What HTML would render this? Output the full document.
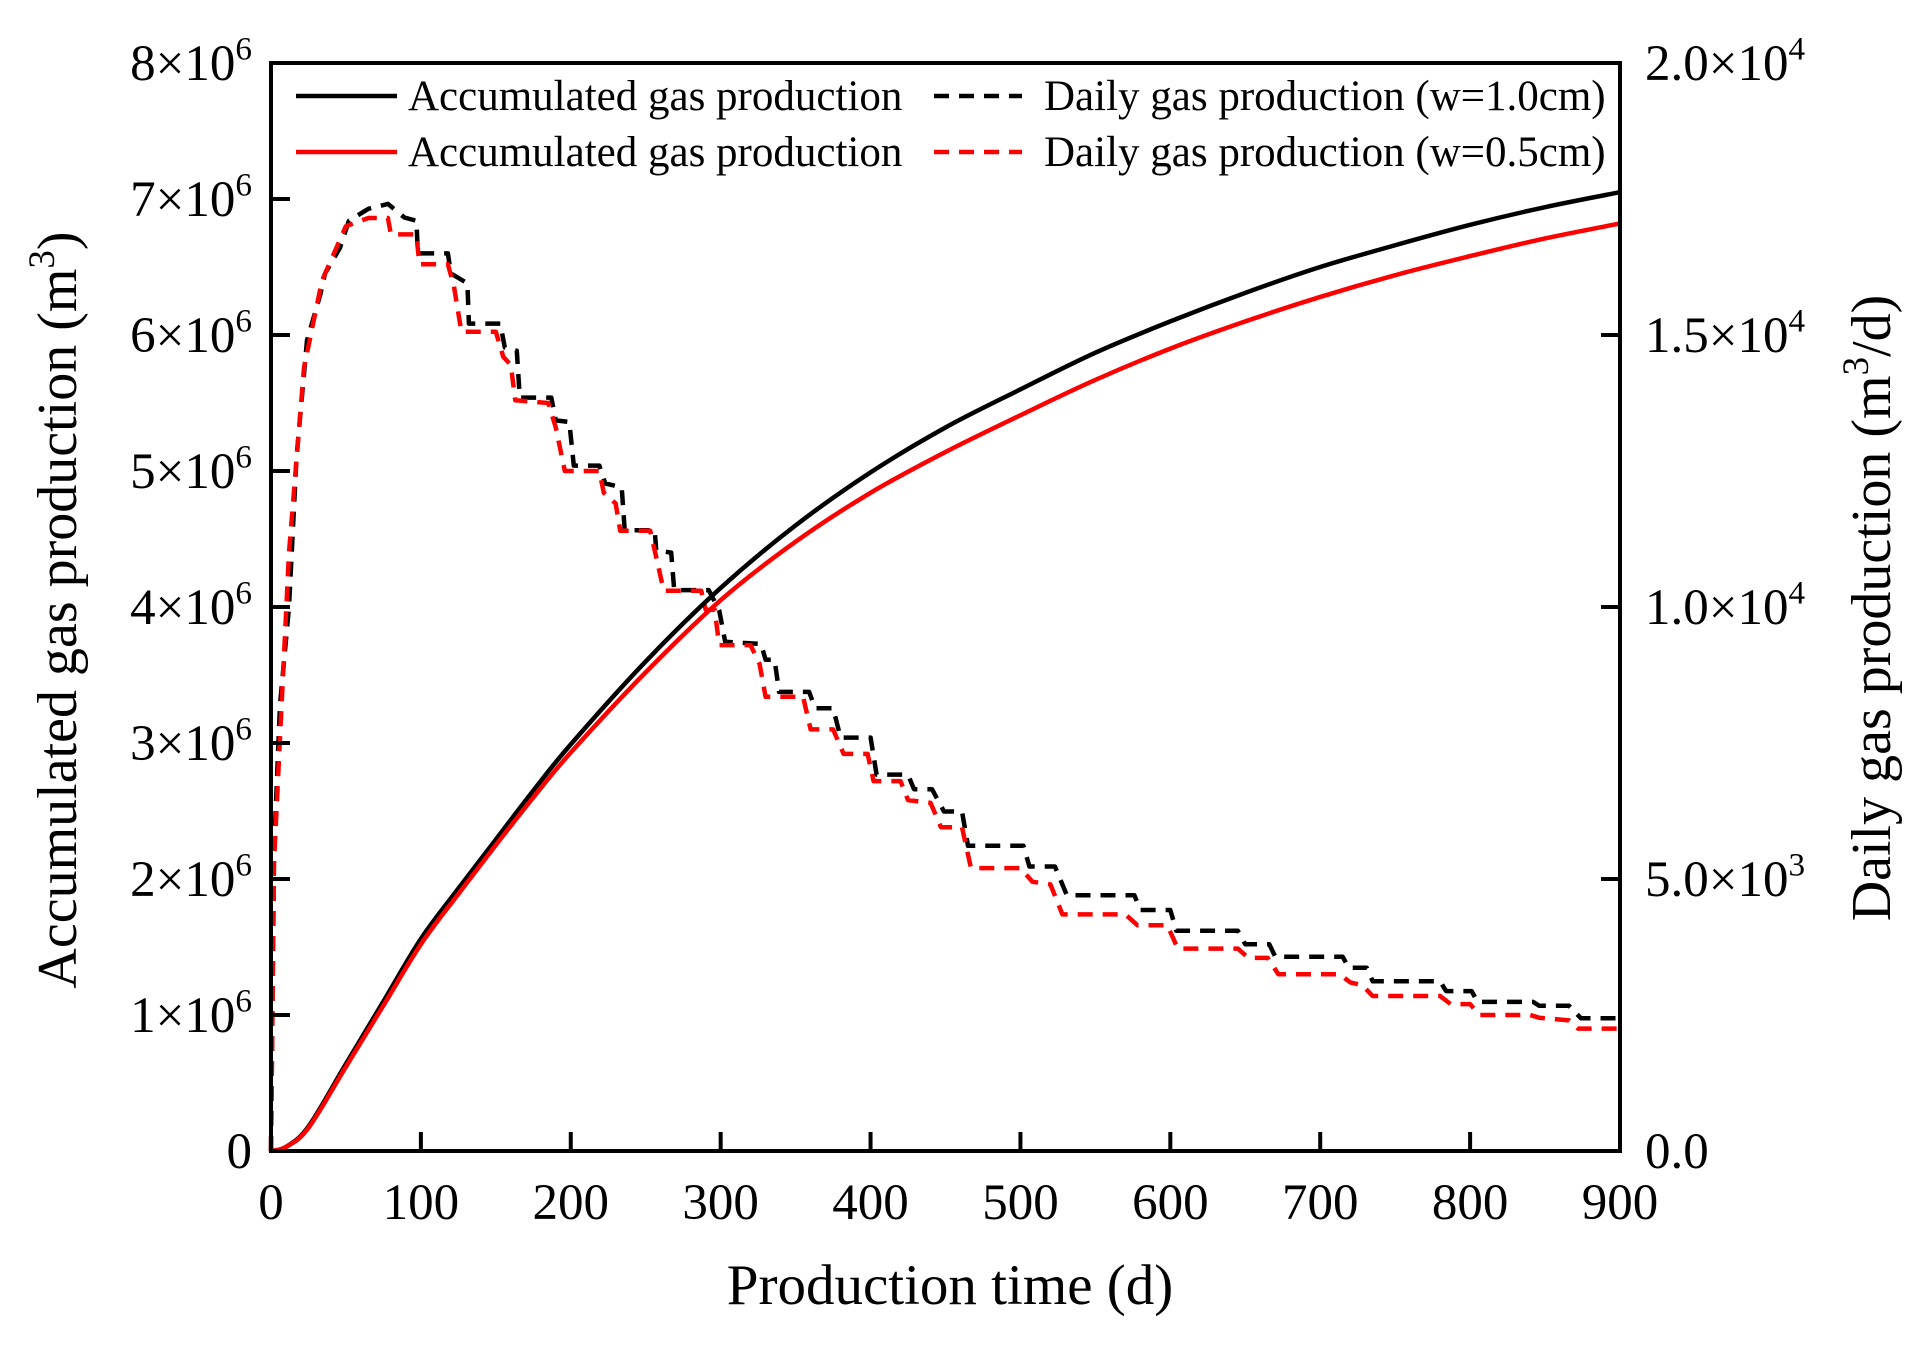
<!DOCTYPE html>
<html><head><meta charset="utf-8"><style>
html,body{margin:0;padding:0;background:#fff;}
svg{display:block;font-family:"Liberation Serif",serif;}
</style></head><body>
<svg id="chart" width="1925" height="1358" viewBox="0 0 1925 1358" xmlns="http://www.w3.org/2000/svg" style="position:absolute;left:0;top:0">
<rect width="1925" height="1358" fill="#fff"/>
<g id="marks"></g>
<g id="axes"></g>
</svg>
<script>
const xTicks=[0,100,200,300,400,500,600,700,800,900];
const leftTicks=[0,1,2,3,4,5,6,7,8];
const leftTickLabels=["0","1×10^6","2×10^6","3×10^6","4×10^6","5×10^6","6×10^6","7×10^6","8×10^6"];
const rightTicks=[0,5000,10000,15000,20000];
const rightTickLabels=["0.0","5.0×10^3","1.0×10^4","1.5×10^4","2.0×10^4"];
const accDays=[0,10,25,50,75,100,125,150,175,200,250,300,350,400,450,500,550,600,650,700,750,800,850,900];
const accBlack=[0,0.03,0.18,0.64,1.1,1.56,1.93,2.29,2.65,2.99,3.6,4.14,4.6,4.99,5.32,5.6,5.87,6.1,6.31,6.5,6.66,6.81,6.94,7.05];
const accRed=[0,0.03,0.17,0.62,1.07,1.52,1.89,2.25,2.6,2.93,3.52,4.05,4.48,4.84,5.14,5.41,5.67,5.9,6.1,6.28,6.44,6.58,6.71,6.82];
const dailyBlackDays=[0,2,6,12,17,24,33,36,46,52,65,78,89,97,98,118,120,131,132,153,156,164,166,187,190,199,202,219,223,234,236,256,257,267,269,292,299,303,327,330,336,339,359,363,375,380,400,404,425,429,441,449,461,465,502,506,523,531,576,580,600,604,645,650,666,670,715,719,731,735,780,784,801,805,842,846,866,874,898];
const dailyBlack=[0,5500,8200,10000,12750,14900,15760,16130,16600,17100,17320,17410,17160,17100,16500,16500,16130,15950,15210,15210,14770,14710,13850,13850,13430,13400,12600,12600,12270,12200,11410,11410,11040,11000,10310,10310,9940,9360,9320,9030,9030,8440,8440,8140,8140,7600,7600,6920,6920,6650,6650,6240,6240,5610,5610,5230,5230,4700,4700,4430,4430,4050,4050,3800,3800,3570,3570,3370,3370,3120,3120,2940,2940,2740,2740,2670,2670,2440,2440];
const dailyRedDays=[0,2,6,12,22,34,50,65,78,80,97,99,118,122,127,150,155,160,163,185,190,196,219,222,230,233,253,258,262,287,290,296,299,320,326,330,355,360,375,382,398,402,420,425,440,447,461,467,500,508,520,528,570,578,598,605,645,652,665,672,713,720,728,735,780,787,800,806,840,846,866,872,898];
const dailyRed=[0,5300,7600,11000,14400,16000,17000,17150,17150,16850,16850,16300,16300,15900,15060,15060,14600,14450,13800,13750,13300,12500,12500,12100,11900,11400,11400,10800,10300,10300,9950,9950,9300,9300,8950,8350,8350,7750,7750,7300,7300,6800,6800,6450,6400,5950,5950,5200,5200,4950,4900,4350,4350,4150,4150,3720,3720,3550,3550,3250,3250,3100,3050,2850,2850,2700,2700,2500,2500,2450,2400,2250,2250];

const L=271,R=1620,T=63,B=1151;
const NS="http://www.w3.org/2000/svg";
const xS=t=>L+t/900*(R-L);
const yL=v=>B-v/8*(B-T);
const yR=v=>B-v/20000*(B-T);
const marks=document.getElementById('marks'),axes=document.getElementById('axes');
function mk(tag,attrs,parent){const e=document.createElementNS(NS,tag);for(const k in attrs)e.setAttribute(k,attrs[k]);parent.appendChild(e);return e;}
function supText(parent,x,y,str,anchor,size){
  const p=str.split('^');
  const t=mk('text',{x:x,y:y,'font-size':size,'text-anchor':anchor,fill:'#000'},parent);
  t.appendChild(document.createTextNode(p[0]));
  if(p[1]){const s=mk('tspan',{dy:-size*0.4,'font-size':size*0.65},t);s.textContent=p[1];}
  return t;
}
function poly(xs,ys,fy,color,name){
  const pts=xs.map((t,i)=>xS(t).toFixed(1)+','+fy(ys[i]).toFixed(1)).join(' ');
  const e=mk('polyline',{points:pts,fill:'none',stroke:color,'stroke-width':4.5,'stroke-linejoin':'round','stroke-dasharray':'15 10'},marks);
  
  
}
function smooth(xs,ys,fy,color,name){
  const P=xs.map((t,i)=>[xS(t),fy(ys[i])]);
  let d='M'+P[0][0]+','+P[0][1];
  for(let i=0;i<P.length-1;i++){
    const p0=P[Math.max(i-1,0)],p1=P[i],p2=P[i+1],p3=P[Math.min(i+2,P.length-1)];
    const c1=[p1[0]+(p2[0]-p0[0])/6,p1[1]+(p2[1]-p0[1])/6];
    const c2=[p2[0]-(p3[0]-p1[0])/6,p2[1]-(p3[1]-p1[1])/6];
    d+=' C'+c1.join(',')+' '+c2.join(',')+' '+p2.join(',');
  }
  const e=mk('path',{d:d,fill:'none',stroke:color,'stroke-width':4.5},marks);
  
  
}
poly(dailyBlackDays,dailyBlack,yR,'#000','daily-gas-w1-line');
poly(dailyRedDays,dailyRed,yR,'#f00','daily-gas-w05-line');
smooth(accDays,accBlack,yL,'#000','accumulated-gas-w1-line');
smooth(accDays,accRed,yL,'#f00','accumulated-gas-w05-line');

const fr=mk('rect',{x:L,y:T,width:R-L,height:B-T,fill:'none',stroke:'#000','stroke-width':4},axes);


xTicks.forEach(t=>{
  const x=xS(t);
  const l=mk('line',{x1:x,x2:x,y1:B,y2:B-19,stroke:'#000','stroke-width':4},axes);
  
  
  const tx=supText(axes,x,1219,String(t),'middle',51);
  
  
});
leftTicks.forEach((v,i)=>{
  const y=yL(v);
  const l=mk('line',{x1:L,x2:L+19,y1:y,y2:y,stroke:'#000','stroke-width':4},axes);
  
  
  const tx=supText(axes,252,y+17,leftTickLabels[i],'end',51);
  
  
});
rightTicks.forEach((v,i)=>{
  const y=yR(v);
  const l=mk('line',{x1:R,x2:R-19,y1:y,y2:y,stroke:'#000','stroke-width':4},axes);
  
  
  const tx=supText(axes,1645,y+17,rightTickLabels[i],'start',51);
  
  
});
</script>
<svg style="position:absolute;left:0;top:0" width="1925" height="1358" xmlns="http://www.w3.org/2000/svg" font-family="Liberation Serif, serif">
<text x="950" y="1304" font-size="57" text-anchor="middle">Production time (d)</text>
<text transform="translate(76,610) rotate(-90)" font-size="56" text-anchor="middle">Accumulated gas production (m<tspan dy="-22" font-size="37">3</tspan><tspan dy="22">)</tspan></text>
<text transform="translate(1890,608) rotate(-90)" font-size="56" text-anchor="middle">Daily gas production (m<tspan dy="-22" font-size="37">3</tspan><tspan dy="22">/d)</tspan></text>
<g font-size="43">
<line x1="296" x2="397" y1="96" y2="96" stroke="#000" stroke-width="4.5"/>
<text x="408" y="110">Accumulated gas production</text>
<line x1="934" x2="1022" y1="96" y2="96" stroke="#000" stroke-width="4.5" stroke-dasharray="15 10"/>
<text x="1044" y="110">Daily gas production (w=1.0cm)</text>
<line x1="296" x2="397" y1="152" y2="152" stroke="#f00" stroke-width="4.5"/>
<text x="408" y="166">Accumulated gas production</text>
<line x1="934" x2="1022" y1="152" y2="152" stroke="#f00" stroke-width="4.5" stroke-dasharray="15 10"/>
<text x="1044" y="166">Daily gas production (w=0.5cm)</text>
</g>
</svg>
</body></html>
